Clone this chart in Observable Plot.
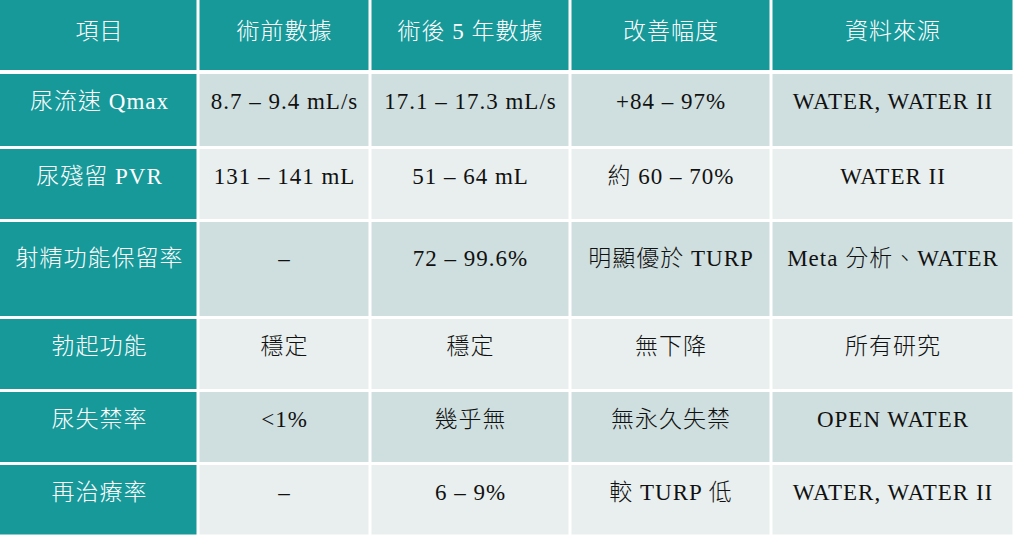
<!DOCTYPE html>
<html>
<head>
<meta charset="utf-8">
<script src="https://cdn.jsdelivr.net/npm/d3@7"></script>
<script src="https://cdn.jsdelivr.net/npm/@observablehq/plot@0.6"></script>
<style>
  html, body { margin: 0; padding: 0; background: #fff; }
  #chart svg { display: block; }
</style>
</head>
<body>
<div id="chart"></div>
<script>
// ---- Data ----
const headers = ["項目", "術前數據", "術後 5 年數據", "改善幅度", "資料來源"];
const items = ["尿流速 Qmax", "尿殘留 PVR", "射精功能保留率", "勃起功能", "尿失禁率", "再治療率"];
const preOp = ["8.7 – 9.4 mL/s", "131 – 141 mL", "–", "穩定", "<1%", "–"];
const postOp5y = ["17.1 – 17.3 mL/s", "51 – 64 mL", "72 – 99.6%", "穩定", "幾乎無", "6 – 9%"];
const improvement = ["+84 – 97%", "約 60 – 70%", "明顯優於 TURP", "無下降", "無永久失禁", "較 TURP 低"];
const sources = ["WATER, WATER II", "WATER II", "Meta 分析、WATER", "所有研究", "OPEN WATER", "WATER, WATER II"];

// ---- Layout ----
const W = 1015, H = 537;
const colEdges = [0, 198, 370, 570, 771, 1014];
const rowEdges = [0, 72, 147.5, 220.5, 317.5, 390.5, 463.5, 536];
const teal = "#17999a";
const darkCell = "#cfdfdf";
const lightCell = "#e8efee";

const columns = [items, preOp, postOp5y, improvement, sources];
const cells = [];
headers.forEach((h, c) => cells.push({row: 0, col: c, text: h}));
items.forEach((_, r) => {
  columns.forEach((arr, c) => cells.push({row: r + 1, col: c, text: arr[r]}));
});

const fillOf = d => (d.row === 0 || d.col === 0) ? teal : (d.row % 2 === 1 ? darkCell : lightCell);
const textColor = d => (d.row === 0 || d.col === 0) ? "#ffffff" : "#111111";
const g = 1.5;

const plot = Plot.plot({
  width: W,
  height: H,
  margin: 0,
  x: {domain: [0, W], range: [0, W], axis: null},
  y: {domain: [0, H], range: [0, H], axis: null},
  marks: [
    Plot.rect(cells, {
      x1: d => colEdges[d.col] + (d.col === 0 ? 0 : g),
      x2: d => colEdges[d.col + 1] - g,
      y1: d => rowEdges[d.row] + (d.row === 0 ? 0 : (d.row === 1 ? 2 : g)),
      y2: d => rowEdges[d.row + 1] - (d.row === 0 ? 2 : g),
      fill: fillOf
    }),
    Plot.text(cells, {
      x: d => (colEdges[d.col] + colEdges[d.col + 1]) / 2,
      y: d => rowEdges[d.row] + (rowEdges[d.row + 1] - rowEdges[d.row]) * (d.row === 0 ? 0.43 : 0.39),
      text: "text",
      fill: textColor,
      fontSize: 23,
      fontWeight: 300,
      fontFamily: "'Liberation Serif', 'Noto Sans CJK TC', serif",
      textAnchor: "middle",
      lineAnchor: "middle"
    })
  ]
});
d3.select(plot).selectAll("text").attr("letter-spacing", 1);
document.getElementById("chart").appendChild(plot);
</script>
</body>
</html>
